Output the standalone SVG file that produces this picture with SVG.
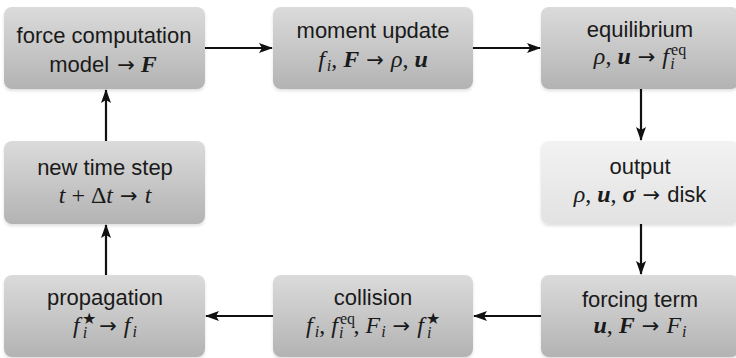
<svg xmlns="http://www.w3.org/2000/svg" width="736" height="358" viewBox="0 0 736 358">
<style>
.box{fill:url(#g);}
.boxl{fill:url(#gl);}
.t{font-family:"Liberation Sans",Arial,sans-serif;font-size:22px;fill:#1a1a1a;text-anchor:middle;}
.m{font-family:"Liberation Serif","Times New Roman",serif;font-size:24px;fill:#1a1a1a;text-anchor:middle;}
.i{font-style:italic;}
.b{font-weight:bold;font-style:italic;}
.s{font-size:16px;}
.ar{font-family:"DejaVu Sans",sans-serif;font-size:21px;font-style:normal;font-weight:normal;}
.sans{font-family:"Liberation Sans",Arial,sans-serif;font-size:22px;}
.c{stroke:#111;stroke-width:2.2;fill:none;marker-end:url(#ah);}
</style>
<defs>
<linearGradient id="g" x1="0" y1="0" x2="0" y2="1">
<stop offset="0" stop-color="#dbdbdb"/>
<stop offset="1" stop-color="#b3b3b3"/>
</linearGradient>
<linearGradient id="gl" x1="0" y1="0" x2="0" y2="1">
<stop offset="0" stop-color="#f2f2f2"/>
<stop offset="1" stop-color="#e2e2e2"/>
</linearGradient>
<filter id="sh" x="-10%" y="-10%" width="120%" height="130%">
<feDropShadow dx="0" dy="2" stdDeviation="1.5" flood-color="#000" flood-opacity="0.12"/>
</filter>
<marker id="ah" viewBox="0 0 14 10" refX="13" refY="5" markerWidth="14" markerHeight="10" markerUnits="userSpaceOnUse" orient="auto">
<path d="M0,0 L14,5 L0,10 L3,5 Z" fill="#111"/>
</marker>
</defs>
<rect width="736" height="358" fill="#fff"/>

<g id="connectors">
<line class="c" x1="205" y1="48" x2="272" y2="48"/>
<line class="c" x1="473" y1="48" x2="540" y2="48"/>
<line class="c" x1="641" y1="89" x2="641" y2="140"/>
<line class="c" x1="641" y1="224" x2="641" y2="274"/>
<line class="c" x1="541" y1="316" x2="474" y2="316"/>
<line class="c" x1="273" y1="316" x2="206" y2="316"/>
<line class="c" x1="106" y1="275" x2="106" y2="225"/>
<line class="c" x1="106" y1="141" x2="106" y2="90"/>
</g>

<g id="force">
<rect class="box" x="4" y="7" width="201" height="82" rx="8" filter="url(#sh)"/>
<text class="t" x="104" y="43">force computation</text>
<text class="t" x="103" y="72">model <tspan class="ar" dx="2">→</tspan><tspan class="m b" dx="6">F</tspan></text>
</g>

<g id="moment">
<rect class="box" x="273" y="7" width="200" height="82" rx="8" filter="url(#sh)"/>
<text class="t" x="373" y="38">moment update</text>
<text class="m" x="373" y="67"><tspan class="i">f</tspan><tspan class="i s" dx="2" dy="4">i</tspan><tspan dy="-4">, </tspan><tspan class="b">F</tspan><tspan class="ar" dx="7">→</tspan><tspan class="i" dx="7">ρ</tspan>, <tspan class="b">u</tspan></text>
</g>

<g id="equilibrium">
<rect class="box" x="541" y="7" width="198" height="82" rx="8" filter="url(#sh)"/>
<text class="t" x="640" y="37">equilibrium</text>
<text class="m" x="640" y="64"><tspan class="i">ρ</tspan>, <tspan class="b">u</tspan><tspan class="ar" dx="7">→</tspan><tspan class="i" dx="7">f</tspan><tspan class="s" dx="2" dy="-9">eq</tspan><tspan class="i s" dx="-16" dy="14">i</tspan><tspan dx="10" dy="-5"> </tspan></text>
</g>

<g id="output">
<rect class="boxl" x="541" y="141" width="198" height="83" rx="8" filter="url(#sh)"/>
<text class="t" x="640" y="174">output</text>
<text class="m" x="640" y="202"><tspan class="i">ρ</tspan>, <tspan class="b">u</tspan>, <tspan class="b">σ</tspan><tspan class="ar" dx="7">→</tspan><tspan class="sans" dx="7">disk</tspan></text>
</g>

<g id="newtime">
<rect class="box" x="4" y="141" width="201" height="83" rx="8" filter="url(#sh)"/>
<text class="t" x="105" y="175">new time step</text>
<text class="m" x="105" y="203"><tspan class="i">t</tspan> + Δ<tspan class="i">t</tspan><tspan class="ar" dx="7">→</tspan><tspan class="i" dx="7">t</tspan></text>
</g>

<g id="propagation">
<rect class="box" x="4" y="275" width="201" height="82" rx="8" filter="url(#sh)"/>
<text class="t" x="105" y="305">propagation</text>
<text class="m" x="105" y="333"><tspan class="i">f</tspan><tspan class="s" dx="2" dy="-9">★</tspan><tspan class="i s" dx="-13" dy="14">i</tspan><tspan class="ar" dx="12" dy="-5">→</tspan><tspan class="i" dx="7">f</tspan><tspan class="i s" dx="2" dy="4">i</tspan></text>
</g>

<g id="collision">
<rect class="box" x="273" y="275" width="200" height="82" rx="8" filter="url(#sh)"/>
<text class="t" x="373" y="305">collision</text>
<text class="m" x="373" y="333"><tspan class="i">f</tspan><tspan class="i s" dx="2" dy="4">i</tspan><tspan dy="-4">, </tspan><tspan class="i">f</tspan><tspan class="s" dx="2" dy="-9">eq</tspan><tspan class="i s" dx="-16" dy="14">i</tspan><tspan dx="10" dy="-5">, </tspan><tspan class="i">F</tspan><tspan class="i s" dx="1" dy="4">i</tspan><tspan class="ar" dx="7" dy="-4">→</tspan><tspan class="i" dx="7">f</tspan><tspan class="s" dx="2" dy="-9">★</tspan><tspan class="i s" dx="-13" dy="14">i</tspan></text>
</g>

<g id="forcing">
<rect class="box" x="541" y="275" width="198" height="82" rx="8" filter="url(#sh)"/>
<text class="t" x="640" y="307">forcing term</text>
<text class="m" x="640" y="333"><tspan class="b">u</tspan>, <tspan class="b">F</tspan><tspan class="ar" dx="7">→</tspan><tspan class="i" dx="7">F</tspan><tspan class="i s" dx="1" dy="4">i</tspan></text>
</g>
</svg>
